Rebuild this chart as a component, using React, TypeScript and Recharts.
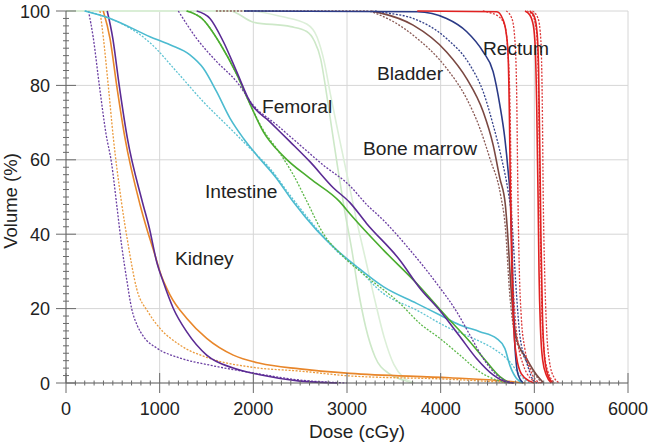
import React from "react";
import {
  LineChart,
  Line,
  XAxis,
  YAxis,
  CartesianGrid,
  ReferenceDot,
} from "recharts";

const FONT = '"Liberation Sans", Arial, Helvetica, sans-serif';

// axis ticks
const xMajor = [0, 1000, 2000, 3000, 4000, 5000, 6000];
const yMajor = [0, 20, 40, 60, 80, 100];
const xMinor = Array.from({ length: 61 }, (_, i) => i * 100);
const yMinor = Array.from({ length: 51 }, (_, i) => i * 2);

// [dose cGy, volume %]
const boneMarrowA = [[0, 100], [1750, 100], [2000, 97], [2400, 95.8], [2570, 94.5], [2650, 92], [2720, 87], [2780, 78], [2840, 68], [2900, 58], [2970, 47], [3050, 36], [3120, 25], [3200, 15], [3300, 7], [3450, 2.5], [3600, 0.8], [3700, 0]];
const boneMarrowB = [[0, 100], [1950, 100], [2300, 98.5], [2570, 96.5], [2680, 93], [2760, 86], [2820, 78], [2900, 68], [3000, 56], [3100, 44], [3200, 33], [3300, 22], [3400, 12], [3500, 5], [3600, 1.5], [3720, 0]];

const kidneyPurpleDot = [[240, 100], [290, 93], [356, 80], [427, 67], [487, 59], [541, 48], [594, 37], [647, 28], [701, 20], [760, 15.5], [830, 12.4], [968, 9.4], [1217, 6.7], [1537, 4.8], [1997, 2.7], [2497, 0.8], [2900, 0.1], [3000, 0]];
const kidneyOrangeDot = [[363, 100], [398, 93], [451, 80], [505, 66], [590, 49], [665, 37], [754, 25.4], [879, 19], [1003, 14.7], [1217, 10.2], [1537, 6.6], [1997, 4.2], [2497, 3.2], [3031, 1.9], [4098, 1.0], [4600, 0.3], [4800, 0]];
const kidneyOrange = [[398, 100], [470, 92.6], [541, 80], [630, 65.8], [790, 48], [861, 41.6], [950, 34.4], [1003, 29.9], [1110, 23.7], [1288, 17.4], [1502, 12], [1786, 7.5], [2070, 5.3], [2497, 3.8], [3031, 2.6], [4098, 1.4], [4700, 0.5], [4900, 0]];
const kidneyPurple = [[440, 100], [500, 92.6], [568, 80], [655, 65.8], [812, 49], [890, 41.6], [968, 32.6], [1038, 27.2], [1145, 20.1], [1288, 13.8], [1502, 7.5], [1786, 4], [2070, 2.2], [2497, 0.5], [2900, 0]];

const intestine = [[200, 100], [470, 98], [896, 93.1], [1110, 90.9], [1323, 88.2], [1466, 84.6], [1608, 78.3], [1750, 71.2], [1893, 65.8], [2035, 61.3], [2249, 55], [2426, 48.7], [2676, 41.1], [2889, 35.8], [3102, 31.3], [3387, 25.9], [3743, 21.4], [3991, 18.3], [4205, 15.6], [4418, 13.8], [4596, 12], [4685, 9.3], [4738, 4.8], [4810, 1.2], [4880, 0]];
const intestineDot = [[200, 100], [470, 98], [896, 91.5], [1181, 83.7], [1466, 75.6], [1750, 68.5], [1964, 63.1], [2177, 57.7], [2391, 50.5], [2676, 41.5], [2889, 35.5], [3102, 31], [3387, 24.1], [3743, 19.6], [4063, 15.1], [4347, 12], [4560, 9.3], [4738, 5.7], [4845, 2.2], [4952, 0]];

const femoralPurpleDot = [[1199, 100], [1395, 92.6], [1608, 86.4], [1822, 81], [1999, 74.7], [2249, 69.4], [2497, 64], [2746, 58.6], [3031, 53], [3209, 48], [3387, 43.8], [3671, 35.8], [3956, 26.8], [4170, 19.2], [4312, 12.9], [4454, 6.6], [4596, 2.2], [4700, 0.5], [4800, 0]];
const femoralPurple = [[1395, 100], [1537, 98], [1679, 91.8], [1822, 83.7], [1964, 75.6], [2177, 70.2], [2391, 64.9], [2604, 59.5], [2853, 52.5], [3031, 48.5], [3209, 42.9], [3565, 33], [3778, 25.5], [3991, 19.5], [4205, 12.5], [4383, 6.6], [4560, 2.2], [4700, 0.3], [4780, 0]];
const femoralGreen = [[1288, 100], [1450, 98], [1650, 91], [1822, 83], [1964, 75], [2106, 67.6], [2320, 61], [2604, 55], [2924, 48.7], [3031, 45.5], [3387, 35.8], [3743, 26.8], [4063, 17.8], [4312, 11.1], [4490, 5.7], [4632, 1.7], [4738, 0]];
const femoralGreenDot = [[1288, 100], [1450, 98], [1650, 91], [1822, 83], [1964, 75], [2106, 68], [2249, 63], [2426, 56], [2568, 49], [2746, 40.2], [2960, 34], [3209, 28.6], [3565, 21.4], [3778, 16], [3991, 12], [4205, 7.5], [4418, 3], [4596, 0.8], [4700, 0]];

const bladderBrownDot = [[1600, 100], [3209, 100], [3351, 98.9], [3706, 93.5], [4063, 84.6], [4276, 76.5], [4418, 68.5], [4525, 60.4], [4640, 50.5], [4690, 42], [4738, 23.7], [4792, 12.9], [4880, 7.5], [4987, 3], [5080, 0]];
const bladderBrown = [[3250, 100], [3351, 99.5], [3706, 96.2], [4063, 89], [4276, 81.9], [4454, 72.9], [4560, 64], [4632, 55], [4690, 48], [4710, 42], [4756, 23.7], [4810, 12], [4916, 6.6], [5023, 2.2], [5100, 0]];
const bladderNavyDot = [[3300, 100], [3422, 99.5], [3706, 98], [4063, 92.6], [4312, 85.5], [4454, 78.3], [4560, 69.4], [4650, 60.4], [4721, 51.4], [4756, 45], [4810, 23.7], [4845, 12.9], [4916, 5.7], [4987, 0.8], [5030, 0]];
const bladderNavy = [[1900, 100], [3750, 99.8], [4063, 98], [4276, 94.5], [4454, 89], [4560, 83.7], [4632, 74.7], [4685, 65.8], [4721, 56.8], [4746, 48.7], [4774, 23.7], [4792, 10.2], [4827, 2.2], [4880, 0]];

const rectumSolidA = [[3750, 100], [4600, 99.8], [4660, 98], [4700, 94], [4720, 88], [4735, 70], [4745, 50], [4760, 30], [4780, 15], [4810, 7], [4860, 2.5], [4950, 0.5], [5000, 0]];
const rectumDotA = [[4450, 100], [4530, 99.5], [4620, 98.5], [4685, 96], [4715, 90], [4740, 75], [4755, 50], [4770, 30], [4795, 18], [4830, 10], [4880, 5], [4950, 1.5], [5050, 0]];
const rectumDotB = [[4700, 100], [4760, 98], [4790, 93], [4810, 80], [4825, 50], [4840, 30], [4860, 18], [4900, 9], [4950, 4], [5010, 1], [5070, 0]];
const rectumSolidB = [[4900, 100], [4950, 99], [4990, 96], [5010, 90], [5025, 75], [5040, 50], [5050, 30], [5065, 15], [5090, 6], [5130, 2], [5180, 0]];
const rectumSolidC = [[4950, 100], [5000, 98.5], [5030, 94], [5045, 85], [5060, 60], [5070, 40], [5085, 20], [5105, 8], [5140, 2.5], [5200, 0]];
const rectumDotC = [[4920, 100], [4980, 99], [5020, 95], [5040, 85], [5055, 60], [5065, 40], [5080, 20], [5100, 10], [5140, 3.5], [5220, 0]];
const rectumDotD = [[4980, 100], [5040, 98], [5070, 92], [5085, 75], [5095, 50], [5110, 30], [5130, 15], [5160, 6], [5210, 1.5], [5270, 0]];

// drawing order: first drawn ends up underneath
const curves = [
  { key: "bmA", pts: boneMarrowA, color: "#cde8c8", dash: false },
  { key: "bmB", pts: boneMarrowB, color: "#dcefd8", dash: false },
  { key: "kPd", pts: kidneyPurpleDot, color: "#6a3ea2", dash: true },
  { key: "kOd", pts: kidneyOrangeDot, color: "#eb9a3c", dash: true },
  { key: "kO", pts: kidneyOrange, color: "#e8862a", dash: false },
  { key: "kP", pts: kidneyPurple, color: "#5b2b94", dash: false },
  { key: "iD", pts: intestineDot, color: "#5ec3d3", dash: true },
  { key: "i", pts: intestine, color: "#4cbbd0", dash: false },
  { key: "fGd", pts: femoralGreenDot, color: "#5db84a", dash: true },
  { key: "fG", pts: femoralGreen, color: "#4aac2e", dash: false },
  { key: "fPd", pts: femoralPurpleDot, color: "#6a3ea2", dash: true },
  { key: "fP", pts: femoralPurple, color: "#5b2b94", dash: false },
  { key: "bBd", pts: bladderBrownDot, color: "#8a5a55", dash: true },
  { key: "bB", pts: bladderBrown, color: "#7a4842", dash: false },
  { key: "bNd", pts: bladderNavyDot, color: "#34418a", dash: true },
  { key: "bN", pts: bladderNavy, color: "#2b3a86", dash: false },
  { key: "rDa", pts: rectumDotA, color: "#dc3b3b", dash: true },
  { key: "rDb", pts: rectumDotB, color: "#dc3b3b", dash: true },
  { key: "rDc", pts: rectumDotC, color: "#dc3b3b", dash: true },
  { key: "rDd", pts: rectumDotD, color: "#dc3b3b", dash: true },
  { key: "rSa", pts: rectumSolidA, color: "#e12121", dash: false },
  { key: "rSb", pts: rectumSolidB, color: "#e12121", dash: false },
  { key: "rSc", pts: rectumSolidC, color: "#e12121", dash: false },
];

// organ labels: [text, dose, volume] at text start / baseline
const notes: [string, number, number][] = [
  ["Rectum", 4451, 88.2],
  ["Bladder", 3320, 81.5],
  ["Femoral", 2092, 72.6],
  ["Bone marrow", 3170, 61.3],
  ["Intestine", 1484, 49.7],
  ["Kidney", 1164, 31.7],
];

const toRows = (pts: number[][]) => pts.map(([d, v]) => ({ d, v }));

const renderXTick = (props: any) => {
  const { x, y, payload } = props;
  const major = xMajor.includes(payload.value);
  const h = major ? 10 : 2.5;
  return (
    <g>
      <path d={`M${x},${y - h}L${x},${y + h}`} stroke="#6a6a6a" strokeWidth={1} fill="none" />
      {major && (
        <text x={x} y={y + 32} textAnchor="middle" fontSize={18} fill="#222" fontFamily={FONT}>
          {payload.value}
        </text>
      )}
    </g>
  );
};

const renderYTick = (props: any) => {
  const { x, y, payload } = props;
  const major = yMajor.includes(payload.value);
  const w = major ? 10 : 3;
  return (
    <g>
      <path d={`M${x - w},${y}L${x + w},${y}`} stroke="#6a6a6a" strokeWidth={1} fill="none" />
      {major && (
        <text x={x - 16} y={y + 6.5} textAnchor="end" fontSize={18} fill="#222" fontFamily={FONT}>
          {payload.value}
        </text>
      )}
    </g>
  );
};

const noteLabel = (text: string) => (props: any) => {
  const { viewBox } = props;
  return (
    <text x={viewBox.x} y={viewBox.y} fontSize={19.2} fill="#222" fontFamily={FONT}>
      {text}
    </text>
  );
};

const YTitle = (props: any) => {
  const { viewBox } = props;
  const cx = viewBox.x + 17;
  const cy = viewBox.y + viewBox.height / 2 + 4;
  return (
    <text x={cx} y={cy} transform={`rotate(-90, ${cx}, ${cy})`} textAnchor="middle" fontSize={18.5} fill="#222" fontFamily={FONT}>
      Volume (%)
    </text>
  );
};

const XTitle = (props: any) => {
  const { viewBox } = props;
  return (
    <text x={viewBox.x + viewBox.width / 2 + 10} y={viewBox.y + 55} textAnchor="middle" fontSize={19} fill="#222" fontFamily={FONT}>
      Dose (cGy)
    </text>
  );
};

export default function App() {
  return (
    <div style={{ position: "absolute", left: 0, top: 0 }}>
      <LineChart width={650} height={448} margin={{ top: 11, right: 22, bottom: 0, left: 0 }}>
        <CartesianGrid
          stroke="#d6d6d6"
          verticalValues={xMajor.slice(1)}
          horizontalValues={yMajor.slice(1)}
        />
        <XAxis
          dataKey="d"
          type="number"
          domain={[0, 6000]}
          ticks={xMinor}
          interval={0}
          tickSize={0}
          tickMargin={0}
          tickLine={false}
          tick={renderXTick}
          axisLine={{ stroke: "#555" }}
          height={65}
          label={<XTitle />}
        />
        <YAxis
          type="number"
          domain={[0, 100]}
          ticks={yMinor}
          interval={0}
          tickSize={0}
          tickMargin={0}
          tickLine={false}
          tick={renderYTick}
          axisLine={{ stroke: "#555" }}
          width={66}
          label={<YTitle />}
        />
        {curves.map((c) => (
          <Line
            key={c.key}
            data={toRows(c.pts)}
            dataKey="v"
            type="monotone"
            stroke={c.color}
            strokeWidth={c.dash ? 1.3 : 1.6}
            strokeDasharray={c.dash ? "2 1.5" : undefined}
            dot={false}
            activeDot={false}
            isAnimationActive={false}
          />
        ))}
        {notes.map(([t, d, v]) => (
          <ReferenceDot key={t} x={d} y={v} r={0} fill="none" stroke="none" label={noteLabel(t)} />
        ))}
      </LineChart>
    </div>
  );
}
